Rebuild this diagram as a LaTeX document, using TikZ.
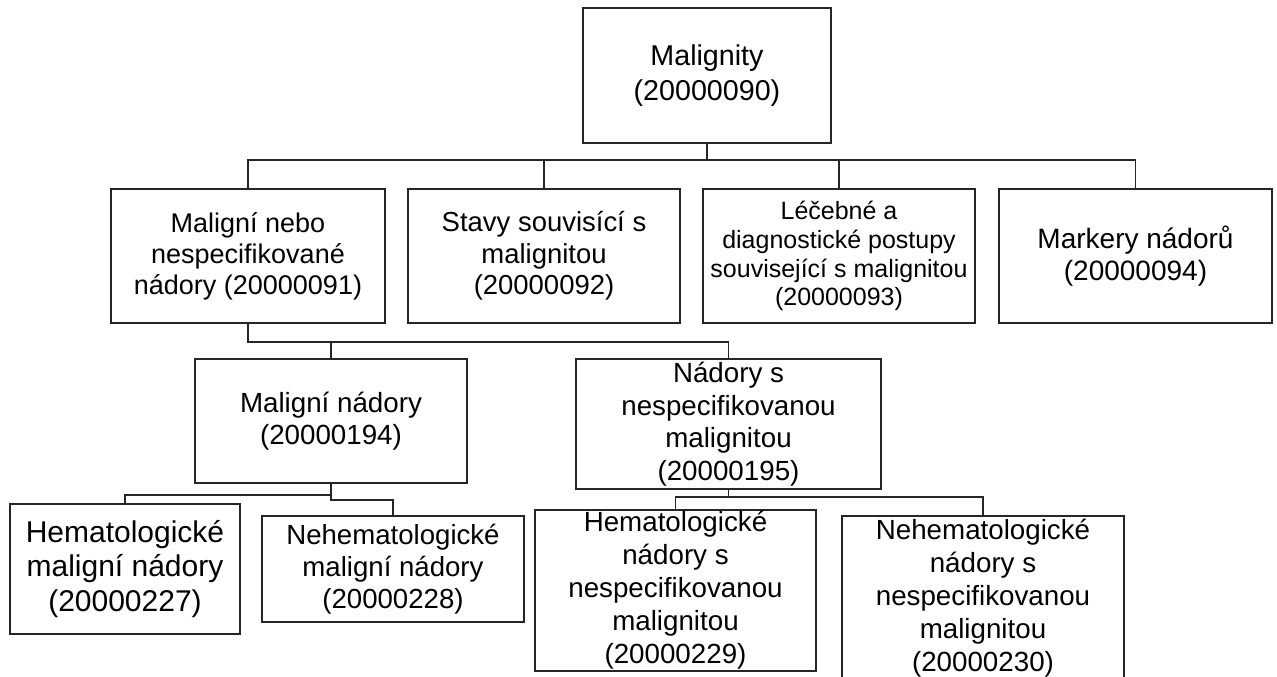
\documentclass[tikz,border=0pt]{standalone}
\usepackage{fontspec}
\setmainfont{Liberation Sans}
\newcommand{\fsz}[2]{\fontsize{#1}{#2}\selectfont}
\begin{document}
\begin{tikzpicture}[x=0.75pt,y=-0.75pt,
  box/.style={draw=black!85, line width=0.9pt, inner sep=0pt, align=center, text=black},
  conn/.style={draw=black!85, line width=0.8pt}]
\useasboundingbox (0,0) rectangle (1277,677);
\clip (0,0) rectangle (1277,677);

% level 0
\node[box, minimum width=186pt, minimum height=101.25pt, font=\fsz{21.5}{26.5}] (root) at (707,75.5) {Malignity\\(20000090)};

% level 1
\node[box, minimum width=205.5pt, minimum height=100.5pt, font=\fsz{20.25}{23.3}] (b1) at (248,256) {Maligní nebo\\nespecifikované\\nádory (20000091)};
\node[box, minimum width=204pt, minimum height=100.5pt, font=\fsz{20.6}{23.7}] (b2) at (544,256) {Stavy souvisící s\\malignitou\\(20000092)};
\node[box, minimum width=204pt, minimum height=100.5pt, font=\fsz{18.75}{21.6}] (b3) at (839,256) {Léčebné a\\diagnostické postupy\\související s malignitou\\(20000093)};
\node[box, minimum width=204.75pt, minimum height=100.5pt, font=\fsz{21}{24.2}] (b4) at (1135.5,256) {Markery nádorů\\(20000094)};

% level 2
\node[box, minimum width=204pt, minimum height=93pt, font=\fsz{20.8}{23.9}] (c1) at (331,421) {Maligní nádory\\(20000194)};
\node[box, minimum width=228.75pt, minimum height=97.5pt, font=\fsz{20.8}{24.5}] (c2) at (728.5,424) {Nádory s\\nespecifikovanou\\malignitou\\(20000195)};

% level 3
\node[box, minimum width=172.5pt, minimum height=97.5pt, font=\fsz{22.5}{25.9}] (d1) at (125,569) {Hematologické\\maligní nádory\\(20000227)};
\node[box, minimum width=196.5pt, minimum height=79.5pt, font=\fsz{20.7}{23.8}] (d2) at (393,569) {Nehematologické\\maligní nádory\\(20000228)};
\node[box, minimum width=210.75pt, minimum height=120.75pt, font=\fsz{20.8}{24.75}] (d3) at (675.5,590.5) {Hematologické\\nádory s\\nespecifikovanou\\malignitou\\(20000229)};
\node[box, minimum width=211.5pt, minimum height=123pt, font=\fsz{20.8}{24.75}] (d4) at (983,598) {Nehematologické\\nádory s\\nespecifikovanou\\malignitou\\(20000230)};

% junctions
\coordinate (j1) at (707,160);
\coordinate (j2) at (248,342);
\coordinate (j3) at (331,500);
\coordinate (j3a) at (331,495);
\coordinate (j4) at (728.5,497);

% connectors
\draw[conn] (root.south) -- (j1);
\draw[conn] (b1.north) |- (j1) -| (b4.north);
\draw[conn] (b2.north) -- (b2.north |- j1);
\draw[conn] (b3.north) -- (b3.north |- j1);

\draw[conn] (b1.south) -- (j2) -| (c2.north);
\draw[conn] (c1.north) -- (c1.north |- j2);

\draw[conn] (c1.south) -- (j3) -| (d2.north);
\draw[conn] (j3a) -| (d1.north);

\draw[conn] (c2.south) -- (j4);
\draw[conn] (d3.north) |- (j4) -| (d4.north);
\end{tikzpicture}
\end{document}
